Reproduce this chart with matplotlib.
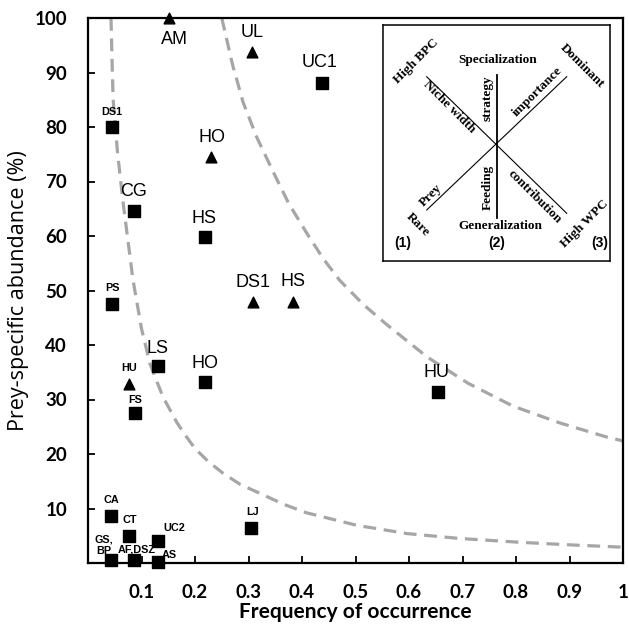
import numpy as np
import matplotlib
matplotlib.use("Agg")
import matplotlib.pyplot as plt

# squares (x = frequency of occurrence, y = prey-specific abundance)
sq_labels = ["DS1", "CG", "PS", "HS", "LS", "HO", "FS", "UC1", "HU", "LJ",
             "CA", "CT", "UC2", "GS,\nBP", "AF,DSZ", "AS"]
sq_x = [0.045, 0.086, 0.045, 0.219, 0.13, 0.219, 0.088, 0.437, 0.654, 0.305,
        0.043, 0.077, 0.13, 0.043, 0.086, 0.13]
sq_y = [80.0, 64.6, 47.5, 59.8, 36.1, 33.2, 27.5, 88.1, 31.4, 6.4,
        8.6, 5.0, 4.0, 0.5, 0.5, 0.2]
sq_big = [False, True, False, True, True, True, False, True, True, False,
          False, False, False, False, False, False]

# triangles
tr_labels = ["AM", "UL", "HO", "DS1", "HS", "HU"]
tr_x = [0.151, 0.307, 0.23, 0.308, 0.383, 0.077]
tr_y = [100.0, 93.8, 74.5, 47.9, 47.9, 32.8]
tr_big = [True, True, True, True, True, False]

# dashed isolines
low_x = [0.043, 0.045, 0.047, 0.055, 0.065, 0.084, 0.1, 0.116, 0.14, 0.166, 0.183,
         0.2, 0.225, 0.252, 0.285, 0.321, 0.365, 0.409, 0.503, 0.596, 0.695,
         0.807, 0.907, 1.0]
low_y = [100.0, 92.0, 85.0, 75.5, 66.6, 52.0, 43.0, 36.5, 30.5, 25.8, 23.3,
         21.0, 18.6, 16.5, 14.4, 12.8, 10.8, 9.2, 6.9, 5.4, 4.5,
         3.8, 3.3, 2.9]
up_x = [0.25, 0.27, 0.29, 0.316, 0.346, 0.375, 0.409, 0.44, 0.471, 0.515, 0.559,
        0.634, 0.71, 0.794, 0.882, 0.97, 1.0]
up_y = [100.0, 91.5, 84.5, 78.0, 71.8, 66.0, 60.5, 55.8, 51.8, 47.4, 43.7,
        37.8, 33.0, 28.8, 25.7, 23.1, 22.4]

# label offsets in pixels (dx, dy)
sq_off = [(0, 15), (0, 19), (0, 16), (-1, 19), (0, 18), (0, 19), (0, 13), (-2, 20),
          (-1, 19), (1, 16), (0, 16), (1, 16), (17, 13), (-7, 15), (3, 11), (12, 7)]
tr_off = [(6, -21), (0, 19), (1, 19), (0, 19), (0, 20), (0, 16)]

W, H = 629, 631
fig = plt.figure(figsize=(W / 100, H / 100), dpi=100)
ax = fig.add_axes([88 / W, (H - 563) / H, (623 - 88) / W, (563 - 18) / H])

ax.plot(low_x, low_y, color="#a6a6a6", lw=2.3, dashes=(4, 2.4), solid_capstyle="butt")
ax.plot(up_x, up_y, color="#a6a6a6", lw=2.3, dashes=(4, 2.4), solid_capstyle="butt")

ax.scatter(sq_x, sq_y, marker="s", s=72, color="black", zorder=3, clip_on=False)
ax.scatter(tr_x, tr_y, marker="^", s=60, color="black", zorder=3, clip_on=False)

def put_labels(labels, xs, ys, bigs, offs):
    for lab, x, y, big, off in zip(labels, xs, ys, bigs, offs):
        if big:
            kw = dict(fontsize=13, family="Liberation Sans")
        else:
            kw = dict(fontsize=7.8, family="Liberation Sans", fontweight="bold",
                      linespacing=1.1)
        ax.annotate(lab, (x, y), xytext=off, textcoords="offset pixels",
                    ha="center", va="center", zorder=4, annotation_clip=False, **kw)

put_labels(sq_labels, sq_x, sq_y, sq_big, sq_off)
put_labels(tr_labels, tr_x, tr_y, tr_big, tr_off)

ax.set_xlim(0, 1)
ax.set_ylim(0, 100)
xt = [0.1, 0.2, 0.3, 0.4, 0.5, 0.6, 0.7, 0.8, 0.9, 1.0]
ax.set_xticks(xt)
ax.set_xticklabels(["0.1", "0.2", "0.3", "0.4", "0.5", "0.6", "0.7", "0.8", "0.9", "1"])
ax.set_yticks(range(10, 101, 10))
for s in ax.spines.values():
    s.set_linewidth(1.6)
ax.tick_params(direction="in", length=5, width=1.3, labelsize=13.5)
ax.tick_params(axis="x", pad=15)
ax.tick_params(axis="y", pad=15)
for t in ax.get_xticklabels() + ax.get_yticklabels():
    t.set_fontfamily("Lato")
    t.set_fontweight("bold")
ax.set_xlabel("Frequency of occurrence", fontsize=15, family="Lato",
              fontweight="bold", labelpad=1)
ax.set_ylabel("Prey-specific abundance (%)", fontsize=15.5, family="Open Sans",
              labelpad=4)

# inset diagram, drawn in pixel coordinates
x0, x1, y0, y1 = 383, 610, 25, 261
ins = fig.add_axes([x0 / W, (H - y1) / H, (x1 - x0) / W, (y1 - y0) / H])
ins.set_xlim(x0, x1)
ins.set_ylim(y1, y0)
ins.set_xticks([])
ins.set_yticks([])
for s in ins.spines.values():
    s.set_linewidth(1.1)

ins.plot([496.7, 496.7], [75, 218], color="black", lw=1.3)
ins.plot([426.7, 566.7], [76.7, 213.3], color="black", lw=0.8)
ins.plot([566.7, 426.7], [76.7, 210], color="black", lw=0.8)

serif = dict(family="Liberation Serif", fontweight="bold", fontsize=9.5,
             ha="center", va="center")
ins.text(498, 60, "Specialization", **serif)
ins.text(500, 226, "Generalization", **serif)
ins.text(416, 61, "High BPC", rotation=45, **serif)
ins.text(582, 66, "Dominant", rotation=-45, **serif)
ins.text(418, 225, "Rare", rotation=-45, **serif)
ins.text(585, 224, "High WPC", rotation=45, **serif)
ins.text(449, 107, "Niche width", rotation=-45, **serif)
ins.text(488, 98, "strategy", rotation=90, **serif)
ins.text(537.5, 92, "importance", rotation=45, **serif)
ins.text(488, 187, "Feeding", rotation=90, **serif)
ins.text(431, 195.5, "Prey", rotation=45, **serif)
ins.text(535, 197, "contribution", rotation=-45, **serif)
for xx, tt in [(403, "(1)"), (497, "(2)"), (600, "(3)")]:
    ins.text(xx, 243, tt, family="Liberation Sans", fontweight="bold", fontsize=10,
             ha="center", va="center")

fig.savefig("out.png", dpi=100)
